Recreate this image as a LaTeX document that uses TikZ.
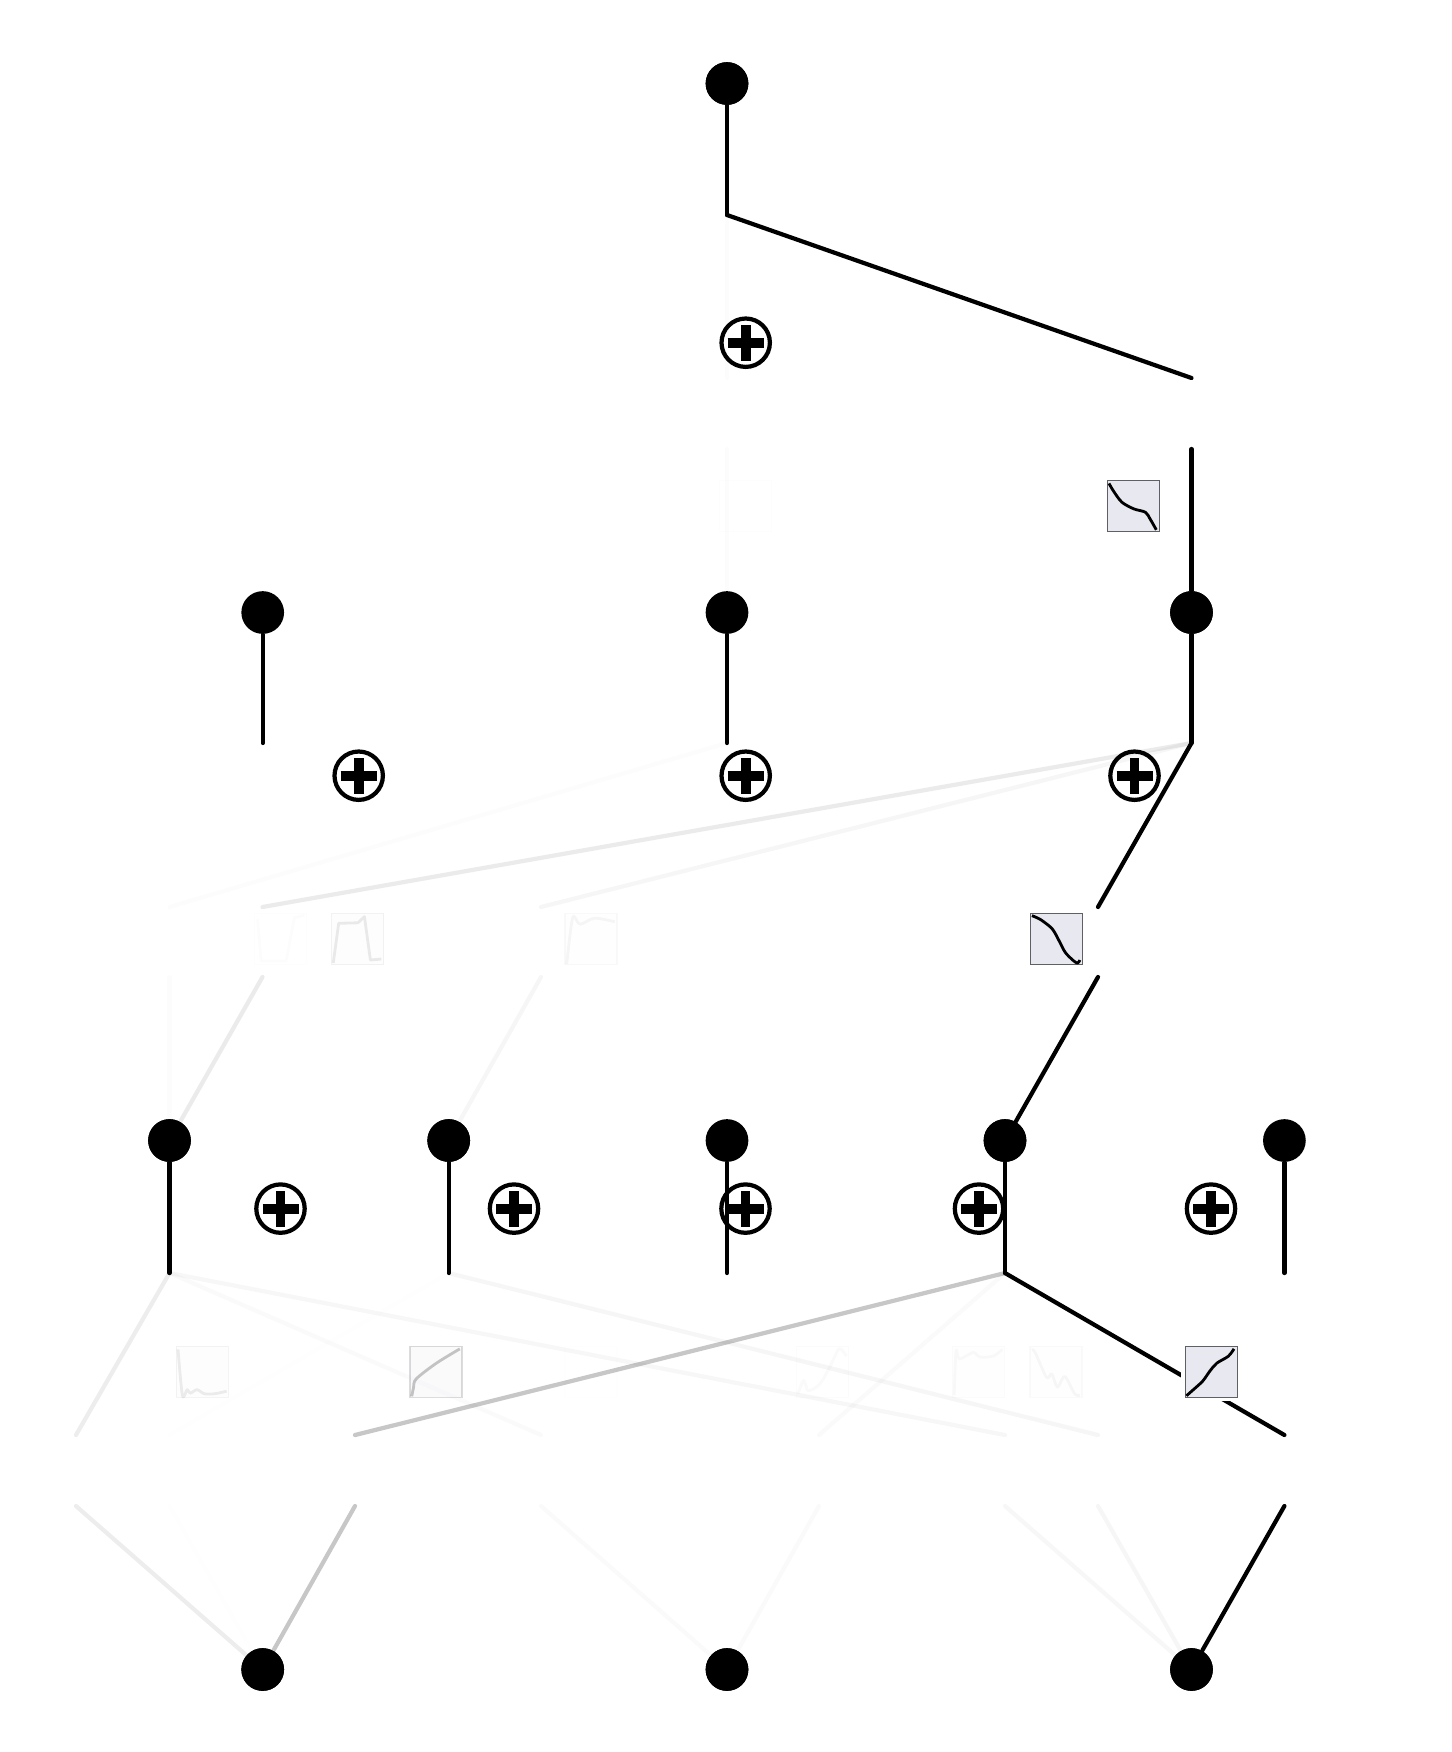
\documentclass[tikz,border=0pt]{standalone}
\definecolor{boxfill}{HTML}{E8E8F0}
\definecolor{boxline}{HTML}{5F5F66}
\tikzset{
  vertexdot/.style={fill=black, circle, inner sep=0pt, minimum size=0.427cm},
  sumnode/.style={draw=black, circle, inner sep=0pt, line width=1.2pt, minimum size=0.484cm,
    path picture={\draw[line width=2.8pt] (path picture bounding box.center) ++(-0.18,0) -- ++(0.36,0);
      \draw[line width=2.8pt] (path picture bounding box.center) ++(0,-0.18) -- ++(0,0.36);}},
  wire/.style={line width=1.2pt, line cap=round, line join=miter},
  plotbox/.style={rectangle, draw=boxline, fill=boxfill, line width=0.35pt, inner sep=0pt,
    minimum width=0.52cm, minimum height=0.51cm, preaction={draw=white, fill=white, line width=2.3pt}},
  curve/.style={x=0.52cm, y=0.51cm, line width=0.8pt, line join=round}
}
\begin{document}
\begin{tikzpicture}
  \useasboundingbox (0,0) rectangle (14.52,-17.52);

  % Vertices
  \node[vertexdot] (n1) at (7.27,-0.835) {};
  \node[vertexdot] (m1) at (2.627,-6.125) {};
  \node[vertexdot] (m2) at (7.27,-6.125) {};
  \node[vertexdot] (m3) at (11.915,-6.125) {};
  \node[vertexdot] (k1) at (1.695,-11.405) {};
  \node[vertexdot] (k2) at (4.487,-11.405) {};
  \node[vertexdot] (k3) at (7.27,-11.405) {};
  \node[vertexdot] (k4) at (10.05,-11.405) {};
  \node[vertexdot] (k5) at (12.844,-11.405) {};
  \node[vertexdot] (b1) at (2.627,-16.695) {};
  \node[vertexdot] (b2) at (7.27,-16.695) {};
  \node[vertexdot] (b3) at (11.915,-16.695) {};

  % Stem ends below the vertices
  \coordinate (sn1) at (7.27,-2.15);
  \coordinate (sm1) at (2.627,-7.43);
  \coordinate (sm2) at (7.27,-7.43);
  \coordinate (sm3) at (11.915,-7.43);
  \coordinate (sk1) at (1.695,-12.73);
  \coordinate (sk2) at (4.487,-12.73);
  \coordinate (sk3) at (7.27,-12.73);
  \coordinate (sk4) at (10.05,-12.73);
  \coordinate (sk5) at (12.844,-12.73);

  % Edge ends above and below the plots
  \coordinate (ua1) at (7.27,-3.78);
  \coordinate (ua2) at (11.915,-3.78);
  \coordinate (la1) at (7.27,-4.49);
  \coordinate (la2) at (11.915,-4.49);

  \coordinate (ub1) at (1.695,-9.07);
  \coordinate (ub2) at (2.625,-9.07);
  \coordinate (ub3) at (5.41,-9.07);
  \coordinate (ub4) at (10.98,-9.07);
  \coordinate (lb1) at (1.695,-9.77);
  \coordinate (lb2) at (2.625,-9.77);
  \coordinate (lb3) at (5.41,-9.77);
  \coordinate (lb4) at (10.98,-9.77);

  \coordinate (uc1) at (0.76,-14.35);
  \coordinate (uc2) at (1.695,-14.35);
  \coordinate (uc3) at (3.55,-14.35);
  \coordinate (uc4) at (5.41,-14.35);
  \coordinate (uc5) at (8.19,-14.35);
  \coordinate (uc6) at (10.05,-14.35);
  \coordinate (uc7) at (10.98,-14.35);
  \coordinate (uc8) at (12.844,-14.35);
  \coordinate (lc1) at (0.76,-15.06);
  \coordinate (lc2) at (1.695,-15.06);
  \coordinate (lc3) at (3.55,-15.06);
  \coordinate (lc4) at (5.41,-15.06);
  \coordinate (lc5) at (8.19,-15.06);
  \coordinate (lc6) at (10.05,-15.06);
  \coordinate (lc7) at (10.98,-15.06);
  \coordinate (lc8) at (12.844,-15.06);

  % Stems
  \draw[wire] (n1) -- (sn1);
  \draw[wire] (m1) -- (sm1);
  \draw[wire] (m2) -- (sm2);
  \draw[wire] (m3) -- (sm3);
  \draw[wire] (k1) -- (sk1);
  \draw[wire] (k2) -- (sk2);
  \draw[wire] (k3) -- (sk3);
  \draw[wire] (k4) -- (sk4);
  \draw[wire] (k5) -- (sk5);

  % Upper block of edges
  \draw[wire, opacity=0.012] (sn1) -- (ua1);
  \draw[wire, opacity=0.012] (la1) -- (m2);
  \draw[wire] (sn1) -- (ua2);
  \draw[wire] (la2) -- (m3);

  % Middle block of edges
  \draw[wire, opacity=0.012] (sm2) -- (ub1);
  \draw[wire, opacity=0.012] (lb1) -- (k1);
  \draw[wire, opacity=0.08] (sm3) -- (ub2);
  \draw[wire, opacity=0.08] (lb2) -- (k1);
  \draw[wire, opacity=0.035] (sm3) -- (ub3);
  \draw[wire, opacity=0.035] (lb3) -- (k2);
  \draw[wire] (sm3) -- (ub4);
  \draw[wire] (lb4) -- (k4);

  % Lower block of edges
  \draw[wire, opacity=0.07] (sk1) -- (uc1);
  \draw[wire, opacity=0.07] (lc1) -- (b1);
  \draw[wire, opacity=0.005] (sk2) -- (uc2);
  \draw[wire, opacity=0.005] (lc2) -- (b1);
  \draw[wire, opacity=0.22] (sk4) -- (uc3);
  \draw[wire, opacity=0.22] (lc3) -- (b1);
  \draw[wire, opacity=0.02] (sk1) -- (uc4);
  \draw[wire, opacity=0.02] (lc4) -- (b2);
  \draw[wire, opacity=0.02] (sk4) -- (uc5);
  \draw[wire, opacity=0.02] (lc5) -- (b2);
  \draw[wire, opacity=0.03] (sk1) -- (uc6);
  \draw[wire, opacity=0.03] (lc6) -- (b3);
  \draw[wire, opacity=0.035] (sk2) -- (uc7);
  \draw[wire, opacity=0.035] (lc7) -- (b3);
  \draw[wire] (sk4) -- (uc8);
  \draw[wire] (lc8) -- (b3);

  % Redraw the dots over the edge ends
  \node[vertexdot] (n1top) at (n1) {};
  \node[vertexdot] (m3top) at (m3) {};
  \node[vertexdot] (k1top) at (k1) {};
  \node[vertexdot] (k2top) at (k2) {};
  \node[vertexdot] (k4top) at (k4) {};
  \node[vertexdot] (b1top) at (b1) {};
  \node[vertexdot] (b2top) at (b2) {};
  \node[vertexdot] (b3top) at (b3) {};

  % Summation marks
  \node[sumnode] (s1) at (7.457,-3.427) {};
  \node[sumnode] (s2) at (3.587,-7.757) {};
  \node[sumnode] (s3) at (7.457,-7.757) {};
  \node[sumnode] (s4) at (11.345,-7.757) {};
  \node[sumnode] (s5) at (2.805,-12.086) {};
  \node[sumnode] (s6) at (5.14,-12.086) {};
  \node[sumnode] (s7) at (7.455,-12.086) {};
  \node[sumnode] (s8) at (9.79,-12.086) {};
  \node[sumnode] (s9) at (12.11,-12.086) {};

  % Small plots of the edge functions
  \node[plotbox, opacity=0.012] (p1) at (7.455,-5.06) {};
  \node[plotbox] (p2) at (11.335,-5.06) {};
  \draw[curve, shift={(p2.south west)}] plot[smooth] coordinates {(.04,.955) (.13,.80) (.29,.585) (.52,.455) (.74,.39) (.83,.26) (.95,.045)};

  \node[plotbox, opacity=0.012] (p3) at (2.805,-9.39) {};
  \draw[curve, opacity=0.012, shift={(p3.south west)}] plot coordinates {(.07,.9) (.14,.08) (.62,.08) (.78,.93) (.97,.98)};
  \node[plotbox, opacity=0.08] (p4) at (3.575,-9.39) {};
  \draw[curve, opacity=0.08, shift={(p4.south west)}] plot coordinates {(.045,.04) (.15,.82) (.52,.83) (.645,.95) (.76,.10) (.97,.12)};
  \node[plotbox, opacity=0.035] (p5) at (5.91,-9.39) {};
  \draw[curve, opacity=0.035, shift={(p5.south west)}] plot[smooth] coordinates {(.045,.02) (.16,.93) (.30,.80) (.58,.92) (.97,.85)};
  \node[plotbox] (p6) at (10.565,-9.39) {};
  \draw[curve, shift={(p6.south west)}] plot[smooth] coordinates {(.04,.97) (.21,.89) (.43,.71) (.56,.48) (.68,.25) (.84,.085) (.92,.04) (.96,.10)};

  \node[plotbox, opacity=0.07] (p7) at (2.023,-13.717) {};
  \draw[curve, opacity=0.07, shift={(p7.south west)}] plot[smooth] coordinates {(.045,.95) (.13,.045) (.22,.16) (.28,.09) (.41,.16) (.55,.08) (.75,.08) (.98,.13)};
  \node[plotbox, opacity=0.22] (p8) at (4.36,-13.717) {};
  \draw[curve, opacity=0.22, shift={(p8.south west)}] plot[smooth] coordinates {(.045,.03) (.08,.20) (.13,.37) (.52,.68) (.97,.96)};
  \node[plotbox, opacity=0.008] (p9) at (5.91,-13.717) {};
  \node[plotbox, opacity=0.02] (p10) at (8.225,-13.717) {};
  \draw[curve, opacity=0.02, shift={(p10.south west)}] plot[smooth] coordinates {(.04,.08) (.15,.34) (.24,.14) (.46,.27) (.65,.6) (.83,.96) (.97,.82)};
  \node[plotbox, opacity=0.025] (p11) at (9.785,-13.717) {};
  \draw[curve, opacity=0.025, shift={(p11.south west)}] plot[smooth] coordinates {(.045,.05) (.08,.92) (.145,.76) (.41,.89) (.54,.8) (.80,.82) (.97,.95)};
  \node[plotbox, opacity=0.03] (p12) at (10.56,-13.717) {};
  \draw[curve, opacity=0.03, shift={(p12.south west)}] plot[smooth] coordinates {(.045,.94) (.11,.89) (.33,.40) (.43,.47) (.54,.21) (.68,.42) (.87,.08) (.97,.05)};
  \node[plotbox] (p13) at (12.112,-13.717) {};
  \draw[curve, shift={(p13.south west)}] plot[smooth] coordinates {(.035,.04) (.18,.17) (.35,.33) (.49,.53) (.62,.68) (.84,.815) (.95,.96)};
\end{tikzpicture}
\end{document}
